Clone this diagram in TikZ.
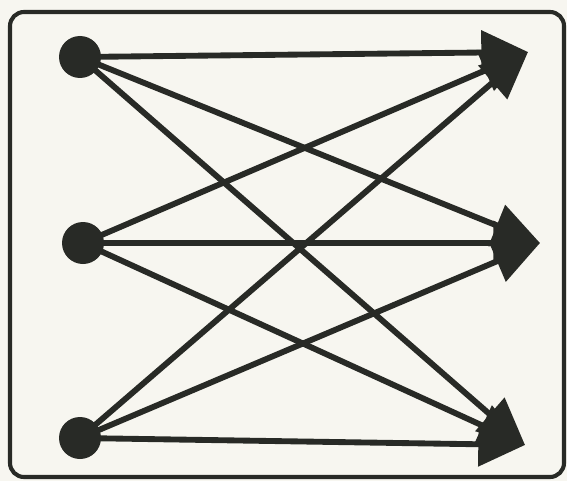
\documentclass[tikz,border=0pt]{standalone}
\usepackage{tikz}
\usetikzlibrary{arrows.meta}
\definecolor{paper}{HTML}{F7F6F0}
\definecolor{ink}{HTML}{282A26}

\begin{document}
\begin{tikzpicture}[x=0.03cm,y=-0.03cm,line width=5pt,color=ink]
    \fill[paper] (0,0) rectangle (567,481);
    \useasboundingbox (0,0) rectangle (567,481);
    \draw[line width=3.5pt,rounded corners=12pt] (10,12) rectangle (564,477);
    \coordinate (s1) at (80,57);
    \coordinate (s2) at (83,243);
    \coordinate (s3) at (80,438);
    \coordinate (t1) at (528,52);
    \coordinate (t2) at (540,243);
    \coordinate (t3) at (525,445);
    \draw [-{Triangle[length=1.4cm,width=1.3cm]}] (s1) -- (t1);
    \draw [-{Triangle[length=1.4cm,width=1.3cm]}] (s1) -- (t2);
    \draw [-{Triangle[length=1.4cm,width=1.3cm]}] (s1) -- (t3);
    \draw [-{Triangle[length=1.4cm,width=1.3cm]}] (s2) -- (t1);
    \draw [-{Triangle[length=1.4cm,width=1.3cm]}] (s2) -- (t2);
    \draw [-{Triangle[length=1.4cm,width=1.3cm]}] (s2) -- (t3);
    \draw [-{Triangle[length=1.4cm,width=1.3cm]}] (s3) -- (t1);
    \draw [-{Triangle[length=1.4cm,width=1.3cm]}] (s3) -- (t2);
    \draw [-{Triangle[length=1.4cm,width=1.3cm]}] (s3) -- (t3);
    \fill (s1) circle (21);
    \fill (s2) circle (21);
    \fill (s3) circle (21);
\end{tikzpicture}
\end{document}
